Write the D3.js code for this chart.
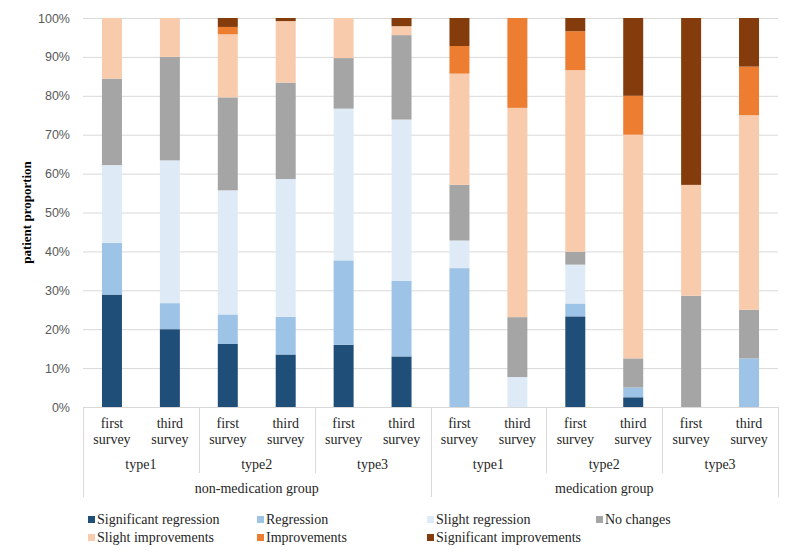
<!DOCTYPE html>
<html><head><meta charset="utf-8">
<script src="https://cdn.jsdelivr.net/npm/d3@7/dist/d3.min.js"></script>
<style>body{margin:0;background:#fff;} svg{display:block;}</style>
</head><body>
<svg id="chart" width="800" height="559"></svg>
<script>
// ---- data ----
const surveys = ["first survey","third survey"];
const types = ["type1","type2","type3"];
const groups = ["non-medication group","medication group"];
const seriesNames = ["Significant regression","Regression","Slight regression","No changes","Slight improvements","Improvements","Significant improvements"];
const seriesColors = ["#1f4e79","#9dc3e6","#deebf7","#a5a5a5","#f8cbad","#ed7d31","#843c0c"];
const yTicks = [0,10,20,30,40,50,60,70,80,90,100];
// values per bar (percent), order: group > type > survey
const significantRegression  = [28.9,20.0,16.2,13.5,16.0,13.0, 0.0, 0.0,23.3, 2.5, 0.0, 0.0];
const regression             = [13.3, 6.7, 7.6, 9.7,21.7,19.4,35.7, 0.0, 3.3, 2.5, 0.0,12.5];
const slightRegression       = [20.0,36.7,31.9,35.4,39.0,41.5, 7.1, 7.7,10.0, 0.0, 0.0, 0.0];
const noChanges              = [22.2,26.6,23.9,24.8,13.0,21.7,14.3,15.4, 3.3, 7.5,28.6,12.5];
const slightImprovements     = [15.6,10.0,16.2,15.8,10.3, 2.3,28.6,53.8,46.7,57.5,28.5,50.0];
const improvements           = [ 0.0, 0.0, 1.9, 0.0, 0.0, 0.0, 7.1,23.1,10.0,10.0, 0.0,12.5];
const significantImprovements= [ 0.0, 0.0, 2.3, 0.8, 0.0, 2.1, 7.2, 0.0, 3.4,20.0,42.9,12.5];

const seriesValues = [significantRegression,regression,slightRegression,noChanges,slightImprovements,improvements,significantImprovements];

// ---- build table ----
const bars = [];
groups.forEach((g,gi)=>types.forEach((t,ti)=>surveys.forEach((s,si)=>{
  bars.push({id: gi+"-"+ti+"-"+si, group:g, type:t, survey:s});
})));
const table = bars.map((b,i)=>{
  const row = {id:b.id};
  seriesNames.forEach((n,k)=>row[n]=seriesValues[k][i]);
  return row;
});
const stack = d3.stack().keys(seriesNames)(table);

// ---- layout ----
const svg = d3.select("#chart");
const L=83, R=778, T=18, B=407;
const x = d3.scaleBand().domain(bars.map(b=>b.id)).range([L,R]).paddingInner(0).paddingOuter(0);
const y = d3.scaleLinear().domain([0,100]).range([B,T]);
const barW = x.bandwidth()*0.345;
const serif = "Liberation Serif, Times New Roman, serif";
const txtCol = "#262626";

// gridlines
svg.append("g").selectAll("line").data(yTicks).join("line")
  .attr("x1",L).attr("x2",R)
  .attr("y1",d=>y(d)+0.5).attr("y2",d=>y(d)+0.5)
  .attr("stroke","#d9d9d9").attr("stroke-width",1);

// y axis labels
const yAxis = d3.axisLeft(y).tickValues(yTicks).tickFormat(d=>d+"%").tickSize(0).tickPadding(13);
const yg = svg.append("g").attr("transform",`translate(${L},0)`).call(yAxis);
yg.select(".domain").remove();
yg.selectAll("text").attr("font-family","Liberation Sans, Arial, sans-serif").attr("font-size",12.5).attr("fill","#595959");

// y title
svg.append("text").attr("transform",`translate(31,${(T+B)/2}) rotate(-90)`)
  .attr("text-anchor","middle").attr("font-family",serif)
  .attr("font-weight","bold").attr("font-size",13).attr("fill","#000").text("patient proportion");

// bars
svg.append("g").selectAll("g").data(stack).join("g")
  .attr("fill",(d,i)=>seriesColors[i])
  .selectAll("rect").data(d=>d).join("rect")
  .attr("x",d=>x(d.data.id)+(x.bandwidth()-barW)/2)
  .attr("width",barW)
  .attr("y",d=>y(d[1]))
  .attr("height",d=>Math.max(0,y(d[0])-y(d[1])));

// category axis
const ax = svg.append("g");
ax.append("line").attr("x1",L).attr("x2",R).attr("y1",B+0.5).attr("y2",B+0.5).attr("stroke","#d9d9d9");
const bw = x.bandwidth();
bars.forEach(b=>{
  const cx = x(b.id)+bw/2;
  const words = b.survey.split(" ");
  ax.append("text").attr("x",cx).attr("y",428).attr("text-anchor","middle")
    .attr("font-family",serif).attr("font-size",14).attr("fill",txtCol).text(words[0]);
  ax.append("text").attr("x",cx).attr("y",444).attr("text-anchor","middle")
    .attr("font-family",serif).attr("font-size",14).attr("fill",txtCol).text(words[1]);
});
groups.forEach((g,gi)=>types.forEach((t,ti)=>{
  const ids = surveys.map((s,si)=>gi+"-"+ti+"-"+si);
  const x0 = x(ids[0]), x1 = x(ids[ids.length-1])+bw;
  ax.append("text").attr("x",(x0+x1)/2).attr("y",469).attr("text-anchor","middle")
    .attr("font-family",serif).attr("font-size",14).attr("fill",txtCol).text(t);
  if(ti>0){
    ax.append("line").attr("x1",Math.round(x0)+0.5).attr("x2",Math.round(x0)+0.5).attr("y1",B).attr("y2",473).attr("stroke","#d9d9d9");
  }
}));
groups.forEach((g,gi)=>{
  const x0 = x(gi+"-0-0"), x1 = x(gi+"-2-1")+bw;
  ax.append("text").attr("x",(x0+x1)/2).attr("y",493).attr("text-anchor","middle")
    .attr("font-family",serif).attr("font-size",14).attr("fill",txtCol).text(g);
  ax.append("line").attr("x1",Math.round(x0)+0.5).attr("x2",Math.round(x0)+0.5).attr("y1",B).attr("y2",497).attr("stroke","#d9d9d9");
});
ax.append("line").attr("x1",R+0.5).attr("x2",R+0.5).attr("y1",B).attr("y2",497).attr("stroke","#d9d9d9");

// legend
const legX = [88,257,427,596];
const legend = svg.append("g");
seriesNames.forEach((n,i)=>{
  const row = i<4?0:1, col = i<4?i:i-4;
  const by = row===0?524:542;
  legend.append("rect").attr("x",legX[col]).attr("y",by-8).attr("width",7).attr("height",7).attr("fill",seriesColors[i]);
  legend.append("text").attr("x",legX[col]+9).attr("y",by).attr("font-family",serif)
    .attr("font-size",14).attr("fill",txtCol).text(n);
});
</script>
</body></html>
